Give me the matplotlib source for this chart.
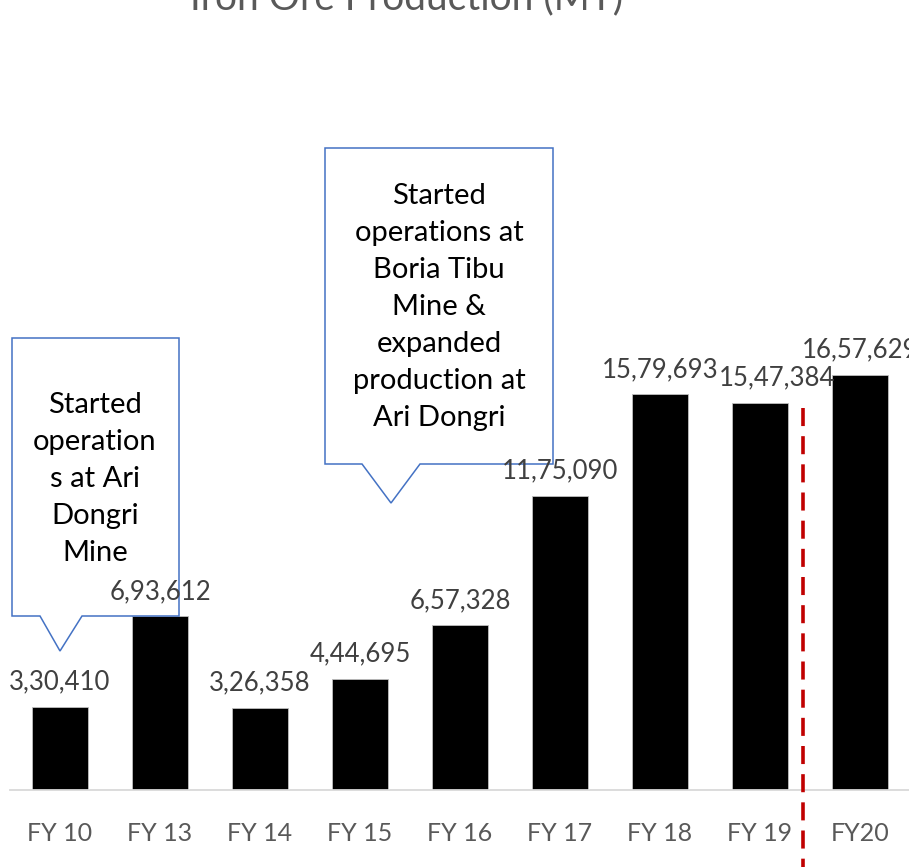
import matplotlib.pyplot as plt
from matplotlib.patches import Polygon

plt.rcParams['font.family'] = ['Lato', 'DejaVu Sans']

years = ['FY 10', 'FY 13', 'FY 14', 'FY 15', 'FY 16', 'FY 17', 'FY 18', 'FY 19', 'FY20']
production = [330410, 693612, 326358, 444695, 657328, 1175090, 1579693, 1547384, 1657629]
value_labels = ['3,30,410', '6,93,612', '3,26,358', '4,44,695', '6,57,328',
                '11,75,090', '15,79,693', '15,47,384', '16,57,629']

note_1 = 'Started\noperation\ns at Ari\nDongri\nMine'
note_2 = 'Started\noperations at\nBoria Tibu\nMine &\nexpanded\nproduction at\nAri Dongri'

W, H = 909, 867
fig = plt.figure(figsize=(W / 100, H / 100), dpi=100)

# axes placed in pixel terms: x from 10 to 910, baseline at y=790
ax = fig.add_axes([10 / W, (H - 790) / H, 900 / W, 790 / H])
ax.set_xlim(-0.5, 8.5)
ax.set_ylim(0, 790 / 0.0002504)

x = range(len(years))
ax.bar(x, production, width=0.56, color='black', edgecolor='#bfbfbf', linewidth=0.6, zorder=2)

# the FY19 label sits a little to the right in the original
label_dx = {7: 12}
for i, v in enumerate(production):
    ax.annotate(value_labels[i], (i, v), xytext=(label_dx.get(i, 0), 9),
                textcoords='offset points', ha='center', va='bottom',
                fontsize=18.5, color='#404040', annotation_clip=False, zorder=8)

ax.set_xticks(list(x))
ax.set_xticklabels(years, fontsize=18, color='#595959')
ax.tick_params(axis='x', length=0, pad=23)
ax.set_yticks([])
for s in ['top', 'left', 'right']:
    ax.spines[s].set_visible(False)
ax.spines['bottom'].set_color('#d9d9d9')
ax.spines['bottom'].set_linewidth(1.3)

# red dashed separator between FY19 and FY20
ax.plot([7.43, 7.43], [1525000, -310000], color='#c00000', lw=2.6,
        dashes=(5, 2.8), clip_on=False, zorder=3)


def px(xp, yp):
    return (xp / W, 1 - yp / H)


def callout(l, r, t, b, p1, p2, tip):
    pts = [(l, t), (r, t), (r, b), (p2, b), tip, (p1, b), (l, b)]
    poly = Polygon([px(*p) for p in pts], closed=True, transform=fig.transFigure,
                   facecolor='white', edgecolor='#4472c4', lw=1.1, zorder=5,
                   clip_on=False)
    ax.add_patch(poly)


callout(12, 179, 338, 616, 40, 82, (60, 651))
callout(325, 553, 148, 464, 362, 420, (391, 503))

ax.text(*px(95, 479), note_1, transform=fig.transFigure, ha='center', va='center',
        fontsize=21, color='black', linespacing=1.52, zorder=6)
ax.text(*px(439, 307), note_2, transform=fig.transFigure, ha='center', va='center',
        fontsize=21, color='black', linespacing=1.52, zorder=6)

fig.text(*px(407, 9), 'Iron Ore Production (MT)', ha='center', va='baseline',
         fontsize=28, color='#595959')

fig.savefig('out.png', dpi=100)
